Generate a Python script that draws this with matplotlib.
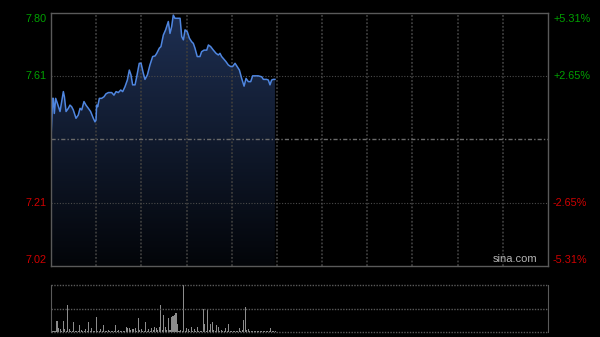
import numpy as np
import matplotlib.pyplot as plt
from matplotlib.patches import Polygon
from matplotlib.colors import LinearSegmentedColormap

# Intraday data (minutes since 9:30, HK session 330 min)
minutes = [0, 1.1, 1.5, 2.2, 3.1, 4.2, 6.0, 8.2, 8.9, 10.0, 11.5, 12.6, 13.7, 14.8, 16.6, 18.1, 19.3, 20.4,
           21.9, 23.2, 24.8, 26.3, 28.1, 29.2, 29.9, 30.3, 31.0, 32.1, 33.6, 35.2, 36.5, 38.1, 40.3, 41.8,
           43.2, 44.7, 46.3, 47.6, 49.1, 50.7, 52.0, 53.1, 54.2, 55.8, 56.9, 58.6, 59.8, 61.3, 62.4, 64.0,
           65.7, 67.5, 69.1, 70.2, 71.9, 73.0, 74.6, 76.1, 77.9, 79.0, 80.1, 81.2, 82.3, 83.4, 85.7, 86.8,
           87.9, 89.0, 90.5, 91.9, 93.4, 94.5, 95.6, 97.1, 98.9, 100.0, 101.6, 103.4, 104.5, 106.0, 107.8,
           109.6, 111.1, 112.2, 113.3, 114.4, 116.2, 117.7, 119.3, 120.6, 122.2, 123.3, 125.1, 126.6, 128.2,
           129.5, 131.0, 132.6, 133.9, 135.5, 137.6, 139.9, 141.0, 143.2, 144.3, 145.4, 146.5, 147.6, 148.7]
prices = [7.414, 7.538, 7.538, 7.491, 7.538, 7.523, 7.497, 7.559, 7.543, 7.497, 7.507, 7.517, 7.512, 7.502,
          7.476, 7.486, 7.507, 7.502, 7.528, 7.517, 7.507, 7.497, 7.476, 7.465, 7.471, 7.517, 7.512, 7.538,
          7.538, 7.543, 7.552, 7.556, 7.556, 7.548, 7.559, 7.556, 7.564, 7.559, 7.574, 7.595, 7.626, 7.611,
          7.580, 7.580, 7.605, 7.647, 7.647, 7.616, 7.597, 7.611, 7.642, 7.668, 7.670, 7.678, 7.694, 7.699,
          7.735, 7.751, 7.777, 7.740, 7.761, 7.797, 7.787, 7.787, 7.787, 7.730, 7.720, 7.751, 7.745, 7.725,
          7.714, 7.709, 7.694, 7.668, 7.668, 7.683, 7.688, 7.688, 7.704, 7.699, 7.688, 7.678, 7.673, 7.678,
          7.668, 7.662, 7.652, 7.642, 7.637, 7.637, 7.647, 7.639, 7.626, 7.600, 7.576, 7.600, 7.590, 7.590,
          7.608, 7.608, 7.608, 7.605, 7.597, 7.597, 7.595, 7.580, 7.595, 7.597, 7.597]

volumes = [4, 3, 2, 3, 23, 8, 6, 3, 23, 6, 3, 57, 6, 3, 2, 21, 3, 2, 3, 15, 4, 2, 3, 6, 2, 21, 3, 8, 2, 3,
           31, 3, 2, 6, 3, 15, 2, 3, 4, 2, 2, 3, 2, 15, 3, 4, 2, 2, 3, 2, 10, 8, 8, 4, 6, 6, 8, 3, 29, 4,
           6, 3, 2, 21, 3, 6, 3, 8, 4, 10, 8, 4, 11, 57, 5, 36, 10, 4, 29, 5, 31, 34, 36, 40, 18, 3, 4, 3, 100, 3,
           8, 6, 3, 10, 3, 6, 2, 10, 3, 2, 3, 49, 17, 3, 47, 4, 17, 21, 4, 3, 15, 10, 3, 4, 2, 3, 8, 3, 17, 3,
           2, 3, 2, 2, 3, 8, 3, 4, 26, 54, 4, 6, 2, 2, 2, 2, 2, 2, 2, 2, 2, 2, 2, 2, 2, 2, 8, 2, 2, 2]

prev_close = 7.41
pct_max = 5.31
left_labels = ["7.80", "7.61", "", "7.21", "7.02"]
right_labels = ["+5.31%", "+2.65%", "", "-2.65%", "-5.31%"]
label_colors = ["#00a000", "#00a000", None, "#d00000", "#d00000"]

plt.rcParams['font.family'] = ['Liberation Sans', 'DejaVu Sans']

fig = plt.figure(figsize=(6, 3.37), dpi=100, facecolor="black")
ax = fig.add_axes([51 / 600, 1 - 266 / 337, 497 / 600, 253 / 337])
axv = fig.add_axes([51 / 600, 1 - 332 / 337, 497 / 600, 47 / 337])

ymax = prev_close * (1 + pct_max / 100)
ymin = prev_close * (1 - pct_max / 100)
levels = np.linspace(ymax, ymin, 5)

#Price panel
ax.set_facecolor("black")
ax.set_xlim(0, 330)
ax.set_ylim(ymin, ymax)
ax.set_xticks([])
ax.set_yticks([])
for s in ax.spines.values():
    s.set_color("#5a5a5a")
    s.set_linewidth(1)
    s.set_zorder(6)

for k in range(1, 11):
    ax.axvline(k * 30, color="#3c3c3c", lw=1.3, linestyle=(0, (1, 1)), zorder=4)
ax.axhline(levels[1], color="#4a4a4a", lw=0.8, linestyle=(0, (1, 1.5)), zorder=4)
ax.axhline(levels[3], color="#4a4a4a", lw=0.8, linestyle=(0, (1, 1.5)), zorder=4)
ax.axhline(prev_close, color="#6a6a6a", lw=1.0, linestyle=(0, (3, 1.5, 1, 1.5)), zorder=4)

#Gradient fill under the line
grad = np.linspace(1, 0, 256).reshape(-1, 1)
cmap = LinearSegmentedColormap.from_list("g", ["#030509", "#1e2f52"])
img = ax.imshow(grad, extent=[0, 330, ymin, ymax], aspect="auto", origin="upper", cmap=cmap, zorder=2)
poly = Polygon(list(zip(minutes, prices)) + [(minutes[-1], ymin), (minutes[0], ymin)],
               closed=True, facecolor="none", edgecolor="none")
ax.add_patch(poly)
img.set_clip_path(poly)
ax.plot(minutes, prices, color="#4f86e0", lw=1.1, zorder=5)

ax.text(0.978, 0.008, "sina.com", transform=ax.transAxes, ha="right", va="bottom",
        color="#b4b4b4", fontsize=8, zorder=7)

#Axis labels
offsets = [-6, 0, 0, 0, 6]
for lvl, ll, rl, c, off in zip(levels, left_labels, right_labels, label_colors, offsets):
    if not ll:
        continue
    ypix = ax.transData.transform((0, lvl))[1] + off
    yfig = ypix / fig.dpi / 3.37
    fig.text(47 / 600, yfig, ll, color=c, fontsize=7.8, ha="right", va="center")
    fig.text(553 / 600, yfig, rl, color=c, fontsize=7.8, ha="left", va="center")

#Volume panel
axv.set_facecolor("black")
axv.set_xlim(0, 330)
axv.set_ylim(0, 100)
axv.set_xticks([])
axv.set_yticks([])
for side in ["top", "bottom"]:
    axv.spines[side].set_visible(False)
for side in ["left", "right"]:
    axv.spines[side].set_color("#5a5a5a")
for yv in [0, 50, 100]:
    axv.axhline(yv, color="#5a5a5a", lw=1.0, linestyle=(0, (1, 1)), clip_on=False)
axv.bar(np.arange(len(volumes)), volumes, width=0.7, color="#8c8c8c", linewidth=0)

plt.savefig("out.png", dpi=100, facecolor="black")
